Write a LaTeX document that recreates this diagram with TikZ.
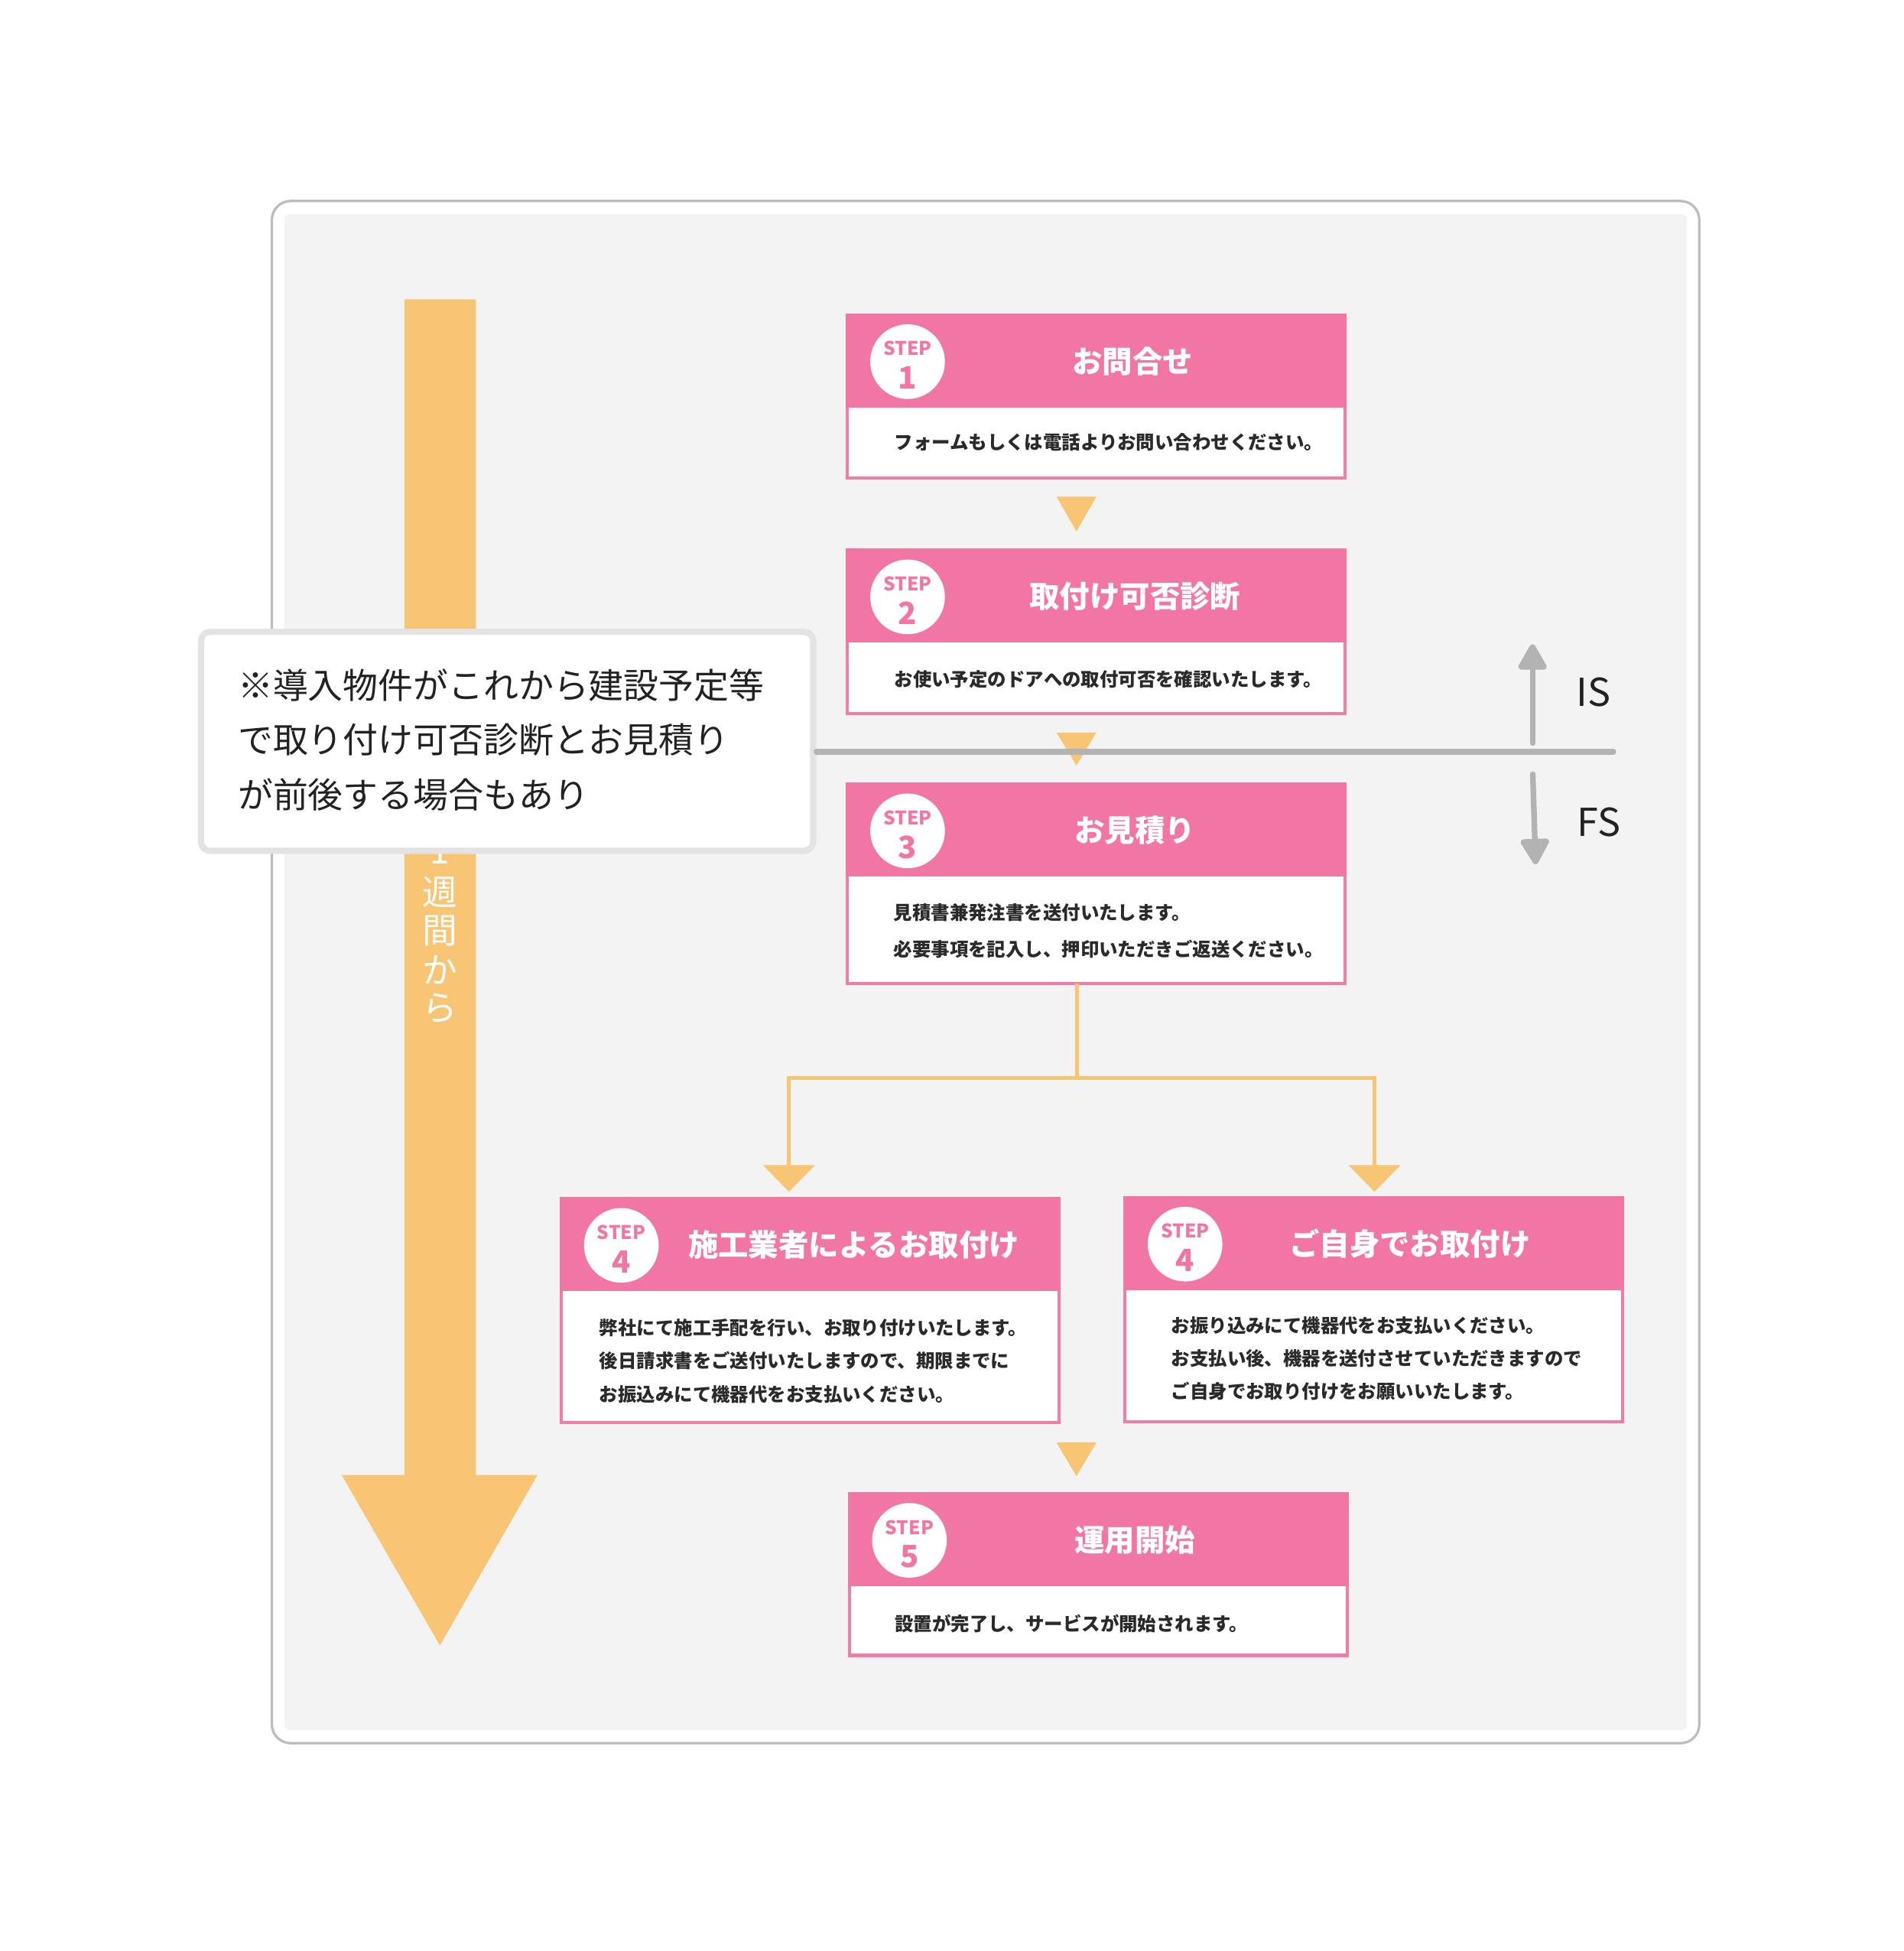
\documentclass[tikz,border=0pt]{standalone}
\usepackage{fontspec}
\setmainfont{Noto Sans CJK JP}
\usetikzlibrary{calc,arrows.meta}
\definecolor{pinkH}{HTML}{F276A3}
\definecolor{pinkB}{HTML}{F07CA8}
\definecolor{orangeA}{HTML}{F8C574}
\definecolor{bgGray}{HTML}{F3F3F3}
\definecolor{frameGray}{HTML}{BDBDBD}
\definecolor{noteGray}{HTML}{E3E3E3}
\definecolor{lineGray}{HTML}{B3B3B3}
\definecolor{textDark}{HTML}{222222}
\definecolor{bodyText}{HTML}{2A2A2A}
\tikzset{
  card/.style={fill=white, draw=pinkB, line width=0.25mm, inner sep=0pt, outer sep=0pt,
    minimum width=40mm, anchor=north west},
  cardhead/.style={fill=pinkH, draw=none, inner sep=0pt, outer sep=0pt,
    minimum width=40.25mm, minimum height=7.55mm, anchor=north west},
  badge/.style={circle, fill=white, draw=none, minimum size=6mm, inner sep=0pt},
  steplbl/.style={text=pinkH, font=\fontsize{4.3pt}{4.3pt}\selectfont\bfseries, inner sep=0pt},
  stepnum/.style={text=pinkH, font=\fontsize{7pt}{7pt}\selectfont\bfseries, inner sep=0pt},
  steptitle/.style={text=white, font=\fontsize{6.9pt}{6.9pt}\selectfont\bfseries, inner sep=0pt},
  stepbody/.style={text=bodyText, anchor=west, align=left, inner sep=0pt},
  flowtri/.style={fill=orangeA, draw=none},
  vchar/.style={text=white, font=\fontsize{8pt}{8pt}\selectfont, inner sep=0pt},
  notebox/.style={fill=white, draw=noteGray, line width=0.5mm, rounded corners=0.75mm,
    inner sep=0pt, anchor=north west, minimum width=49.2mm, minimum height=17.6mm},
  grayarrow/.style={draw=lineGray, line width=0.45mm, line cap=round,
    -{Triangle[length=2.3mm,width=2.5mm,round]}},
  isfslbl/.style={text=textDark, font=\fontsize{8.8pt}{8.8pt}\selectfont, inner sep=0pt},
  branch/.style={draw=orangeA, line width=0.3mm}
}
\begin{document}
\begin{tikzpicture}[x=0.1mm,y=-0.1mm]
\useasboundingbox (0,0) rectangle (1530,1567.5);
\fill[white] (0,0) rectangle (1530,1567.5);
% frame
\draw[frameGray, line width=0.2mm, rounded corners=1.5mm, fill=white] (218.5,161.5) rectangle (1365.5,1400.5);
\fill[bgGray, rounded corners=0.4mm] (228.5,172) rectangle (1355.5,1390);

% big orange time arrow
\fill[orangeA] (325,240.5) -- (382.5,240.5) -- (382.5,1185) -- (432,1185) -- (353.5,1322) -- (274.5,1185) -- (325,1185) -- cycle;
\node[vchar] (v1) at (353.5,684) {1};
\node[vchar] (v2) at (353.5,717) {週};
\node[vchar] (v3) at (353.5,748) {間};
\node[vchar] (v4) at (353.5,779) {か};
\node[vchar] (v5) at (353.5,810) {ら};

% STEP 1
\node[card, minimum height=13.1mm] (s1) at (681,253) {};
\node[cardhead] (s1h) at ($(s1.north west)+(-1.2,-1.2)$) {};
\node[badge] (s1c) at ($(s1h.west)+(49.5,1)$) {};
\node[steplbl] (s1l) at ($(s1c)+(0,-10.5)$) {STEP};
\node[stepnum] (s1n) at ($(s1c)+(0,13)$) {1};
\node[steptitle] (s1t) at ($(s1h.center)+(29,0.5)$) {お問合せ};
\node[stepbody, font=\fontsize{4.27pt}{8.3pt}\selectfont\bfseries] (s1d) at ($(s1.north west)+(37,102.5)$) {フォームもしくは電話よりお問い合わせください。};

% STEP 2
\node[card, minimum height=13.1mm] (s2) at (681,442) {};
\node[cardhead] (s2h) at ($(s2.north west)+(-1.2,-1.2)$) {};
\node[badge] (s2c) at ($(s2h.west)+(49.5,1)$) {};
\node[steplbl] (s2l) at ($(s2c)+(0,-10.5)$) {STEP};
\node[stepnum] (s2n) at ($(s2c)+(0,13)$) {2};
\node[steptitle] (s2t) at ($(s2h.center)+(31,0.5)$) {取付け可否診断};
\node[stepbody, font=\fontsize{4.27pt}{8.3pt}\selectfont\bfseries] (s2d) at ($(s2.north west)+(37,104)$) {お使い予定のドアへの取付可否を確認いたします。};

% STEP 3
\node[card, minimum height=16.0mm] (s3) at (681,630) {};
\node[cardhead] (s3h) at ($(s3.north west)+(-1.2,-1.2)$) {};
\node[badge] (s3c) at ($(s3h.west)+(49.5,1)$) {};
\node[steplbl] (s3l) at ($(s3c)+(0,-10.5)$) {STEP};
\node[stepnum] (s3n) at ($(s3c)+(0,13)$) {3};
\node[steptitle] (s3t) at ($(s3h.center)+(31,0.5)$) {お見積り};
\node[stepbody, font=\fontsize{4.27pt}{8.36pt}\selectfont\bfseries] (s3d) at ($(s3.north west)+(36.5,118)$) {見積書兼発注書を送付いたします。\\必要事項を記入し、押印いただきご返送ください。};

% STEP 4 (left)
\node[card, minimum height=18.0mm] (s4a) at (451,963) {};
\node[cardhead] (s4ah) at ($(s4a.north west)+(-1.2,-1.2)$) {};
\node[badge] (s4ac) at ($(s4ah.west)+(49.5,1)$) {};
\node[steplbl] (s4al) at ($(s4ac)+(0,-10.5)$) {STEP};
\node[stepnum] (s4an) at ($(s4ac)+(0,13)$) {4};
\node[steptitle] (s4at) at ($(s4ah.center)+(35,0.5)$) {施工業者によるお取付け};
\node[stepbody, font=\fontsize{4.27pt}{7.55pt}\selectfont\bfseries] (s4ad) at ($(s4a.north west)+(30,130.5)$) {弊社にて施工手配を行い、お取り付けいたします。\\後日請求書をご送付いたしますので、期限までに\\お振込みにて機器代をお支払いください。};

% STEP 4 (right)
\node[card, minimum height=18.0mm] (s4b) at (904,962) {};
\node[cardhead] (s4bh) at ($(s4b.north west)+(-1.2,-1.2)$) {};
\node[badge] (s4bc) at ($(s4bh.west)+(49.5,1)$) {};
\node[steplbl] (s4bl) at ($(s4bc)+(0,-10.5)$) {STEP};
\node[stepnum] (s4bn) at ($(s4bc)+(0,13)$) {4};
\node[steptitle] (s4bt) at ($(s4bh.center)+(29,0.5)$) {ご自身でお取付け};
\node[stepbody, font=\fontsize{4.27pt}{7.55pt}\selectfont\bfseries] (s4bd) at ($(s4b.north west)+(36.5,129.5)$) {お振り込みにて機器代をお支払いください。\\お支払い後、機器を送付させていただきますので\\ご自身でお取り付けをお願いいたします。};

% STEP 5
\node[card, minimum height=13.0mm] (s5) at (682.5,1200) {};
\node[cardhead] (s5h) at ($(s5.north west)+(-1.2,-1.2)$) {};
\node[badge] (s5c) at ($(s5h.west)+(49.5,1)$) {};
\node[steplbl] (s5l) at ($(s5c)+(0,-10.5)$) {STEP};
\node[stepnum] (s5n) at ($(s5c)+(0,13)$) {5};
\node[steptitle] (s5t) at ($(s5h.center)+(29.5,0.5)$) {運用開始};
\node[stepbody, font=\fontsize{4.27pt}{8.3pt}\selectfont\bfseries] (s5d) at ($(s5.north west)+(36,104.5)$) {設置が完了し、サービスが開始されます。};

% flow triangles between steps
\fill[flowtri] (849,399) -- (881,399) -- (865,427) -- cycle;
\fill[flowtri] (849,588.5) -- (881,588.5) -- (865,615) -- cycle;
\fill[flowtri] (849,1159) -- (881,1159) -- (865,1186) -- cycle;

% branch from step 3
\coordinate (br) at (865.5,866);
\coordinate (brl) at (634,937);
\coordinate (brr) at (1104.5,937);
\draw[branch] (s3.south -| br) -- (br);
\draw[branch] (brl) |- (br) -| (brr);
\fill[flowtri] (613,936) -- (655,936) -- (634,957.5) -- cycle;
\fill[flowtri] (1083.5,936) -- (1125.5,936) -- (1104.5,957.5) -- cycle;

% note box
\node[notebox] (note) at (159,505.1) {};
\node[anchor=west, align=left, inner sep=0pt, text=textDark,
  font=\fontsize{8.02pt}{12.5pt}\selectfont] (notetxt) at (190.5,594.3)
  {\textbf{※}導入物件がこれから建設予定等\\で取り付け可否診断とお見積り\\が前後する場合もあり};

% IS / FS divider
\coordinate (div) at (1296.5,604);
\draw[lineGray, line width=0.45mm, line cap=round] (note.east |- div) -- (div);
\coordinate (isb) at (1231.5,597);
\coordinate (ist) at (1231.5,517.5);
\coordinate (fsb) at (1231.7,622);
\coordinate (fst) at (1234,694.5);
\draw[grayarrow] (isb) -- (ist);
\draw[grayarrow] (fsb) -- (fst);
\node[isfslbl] (islbl) at (1280.5,556) {IS};
\node[isfslbl] (fslbl) at (1285,660.5) {FS};
\end{tikzpicture}
\end{document}
